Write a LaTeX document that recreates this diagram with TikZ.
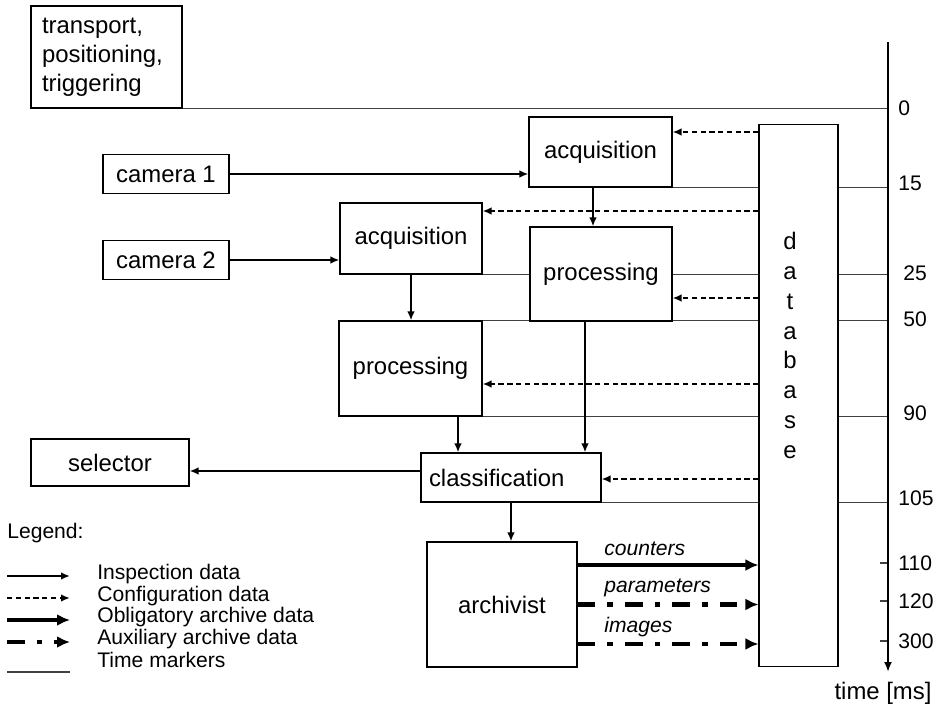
\documentclass[tikz,border=0pt]{standalone}
\usepackage{fontspec}
\setmainfont{Liberation Sans}
\usetikzlibrary{arrows.meta, backgrounds}

\newcommand{\bigfs}{\fontsize{13.6}{16.5}\selectfont}
\newcommand{\smallfs}{\fontsize{12}{14}\selectfont}

\begin{document}
\begin{tikzpicture}[
    x=0.02cm, y=-0.02cm,
    box/.style={rectangle, draw, fill=white, line width=0.6pt, inner sep=0pt, align=center, font=\bigfs},
    lbl/.style={inner sep=0pt, font=\smallfs},
    tlbl/.style={inner sep=0pt, font=\smallfs, anchor=west},
    arrow/.style={-{Latex[length=1.8mm,width=1.5mm]}, line width=1.1pt},
    cfg/.style={-{Latex[length=1.8mm,width=1.5mm]}, line width=1.1pt, dash pattern=on 3pt off 2pt},
    oblig/.style={-{Latex[length=2.6mm,width=2.4mm]}, line width=2.8pt},
    aux/.style={-{Latex[length=2.6mm,width=2.4mm]}, line width=2.8pt, dash pattern=on 10pt off 7pt on 3pt off 7pt},
    tline/.style={line width=0.8pt, black!75}
]
\useasboundingbox (0,0) rectangle (942,705);

\node[box, minimum width=3.02cm, minimum height=2.04cm, text width=2.58cm, inner xsep=0.22cm, align=left] (trans) at (106.5,57) {transport,\\positioning,\\triggering};
\node[box, minimum width=2.52cm, minimum height=0.78cm] (cam1) at (166,174) {camera 1};
\node[box, minimum width=2.52cm, minimum height=0.78cm] (cam2) at (166,260) {camera 2};
\node[box, minimum width=2.86cm, minimum height=1.40cm] (acq1) at (600.5,152) {acquisition};
\node[box, minimum width=2.84cm, minimum height=1.42cm] (acq2) at (411,238.5) {acquisition};
\node[box, minimum width=2.84cm, minimum height=1.88cm] (proc1) at (601,274) {processing};
\node[box, minimum width=2.86cm, minimum height=1.90cm] (proc2) at (410.5,368.5) {processing};
\node[box, minimum width=3.60cm, minimum height=0.98cm, text width=3.28cm, inner xsep=0.16cm, align=left] (class) at (511,477.5) {classification};
\node[box, minimum width=3.16cm, minimum height=0.94cm] (sel) at (110,462.5) {selector};
\node[box, minimum width=3.00cm, minimum height=2.50cm] (arch) at (502,604.5) {archivist};
\node[box, minimum width=1.58cm, minimum height=10.86cm] (db) at (798.5,395.5) {};
\node[inner sep=0pt, align=center, font=\fontsize{13.6}{17}\selectfont] (dbtext) at (790,345.5) {d\\a\\t\\a\\b\\a\\s\\e};

\coordinate (ax0) at (888,42);
\coordinate (ax1) at (888,672);
\draw[-{Latex[length=2mm,width=1.6mm]}, line width=1.1pt] (ax0) -- (ax1);
\node[font=\bigfs, inner sep=0pt] (tunit) at (883,693) {time [ms]};

\node[tlbl] (t0) at (898,108) {0};
\node[tlbl] (t15) at (898,183) {15};
\node[tlbl] (t25) at (903,273) {25};
\node[tlbl] (t50) at (903,319) {50};
\node[tlbl] (t90) at (903,413) {90};
\node[tlbl] (t105) at (898,498) {105};
\node[tlbl] (t110) at (898,563) {110};
\node[tlbl] (t120) at (898,601) {120};
\node[tlbl] (t300) at (898,641) {300};

\begin{scope}[on background layer]
\draw[tline] (trans.south east) -- (trans.south east -| ax0);
\draw[tline] (acq1.south east) -- (acq1.south east -| ax0);
\draw[tline] (acq2.south east) -- (acq2.south east -| ax0);
\draw[tline] (proc2.north east) -- (proc2.north east -| ax0);
\draw[tline] (proc2.south east) -- (proc2.south east -| ax0);
\draw[tline] (class.south east) -- (class.south east -| ax0);
\draw[tline] ([xshift=-0.16cm]ax1 |- t110) -- (ax1 |- t110);
\draw[tline] ([xshift=-0.16cm]ax1 |- t120) -- (ax1 |- t120);
\draw[tline] ([xshift=-0.16cm]ax1 |- t300) -- (ax1 |- t300);
\end{scope}

\draw[arrow] (cam1.east) -- (cam1.east -| acq1.west);
\draw[arrow] (cam2.east) -- (cam2.east -| acq2.west);
\draw[arrow] ([xshift=-0.15cm]acq1.south) -- ([xshift=-0.15cm]acq1.south |- proc1.north);
\draw[arrow] (acq2.south) -- (acq2.south |- proc2.north);
\draw[arrow] ([xshift=0.95cm]proc2.south) -- ([xshift=0.95cm]proc2.south |- class.north);
\draw[arrow] ([xshift=-0.32cm]proc1.south) -- ([xshift=-0.32cm]proc1.south |- class.north);
\draw[arrow] (class.south) -- (class.south |- arch.north);
\draw[arrow] ([yshift=0.13cm]class.west) -- ([yshift=0.13cm]class.west -| sel.east);

\draw[cfg] ([yshift=0.4cm]acq1.east -| db.west) -- ([yshift=0.4cm]acq1.east);
\draw[cfg] ([yshift=0.55cm]acq2.east -| db.west) -- ([yshift=0.55cm]acq2.east);
\draw[cfg] ([yshift=-0.48cm]proc1.east -| db.west) -- ([yshift=-0.48cm]proc1.east);
\draw[cfg] ([yshift=-0.31cm]proc2.east -| db.west) -- ([yshift=-0.31cm]proc2.east);
\draw[cfg] ([yshift=-0.03cm]class.east -| db.west) -- ([yshift=-0.03cm]class.east);

\draw[oblig] ([yshift=0.79cm]arch.east) -- ([yshift=0.79cm]arch.east -| db.west);
\draw[aux] (arch.east) -- (arch.east -| db.west);
\draw[aux] ([yshift=-0.79cm]arch.east) -- ([yshift=-0.79cm]arch.east -| db.west);
\node[lbl, anchor=west, font=\smallfs\itshape] (cnt) at (604,549) {counters};
\node[lbl, anchor=west, font=\smallfs\itshape] (par) at (604,588) {parameters};
\node[lbl, anchor=west, font=\smallfs\itshape] (img) at (604,627) {images};

\node[lbl, anchor=west] (leg) at (7,533) {Legend:};
\node[lbl, anchor=west] (leg1) at (97,574) {Inspection data};
\node[lbl, anchor=west] (leg2) at (97,596) {Configuration data};
\node[lbl, anchor=west] (leg3) at (97,617) {Obligatory archive data};
\node[lbl, anchor=west] (leg4) at (97,639) {Auxiliary archive data};
\node[lbl, anchor=west] (leg5) at (97,660) {Time markers};
\coordinate (lg1a) at (7,576); \coordinate (lg1b) at (70,576);
\coordinate (lg2a) at (7,598); \coordinate (lg2b) at (70,598);
\coordinate (lg3a) at (7,620); \coordinate (lg3b) at (70,620);
\coordinate (lg4a) at (7,642); \coordinate (lg4b) at (70,642);
\coordinate (lg5a) at (7,672); \coordinate (lg5b) at (70,672);
\draw[arrow] (lg1a) -- (lg1b);
\draw[cfg] (lg2a) -- (lg2b);
\draw[oblig] (lg3a) -- (lg3b);
\draw[aux] (lg4a) -- (lg4b);
\draw[tline] (lg5a) -- (lg5b);
\end{tikzpicture}
\end{document}
